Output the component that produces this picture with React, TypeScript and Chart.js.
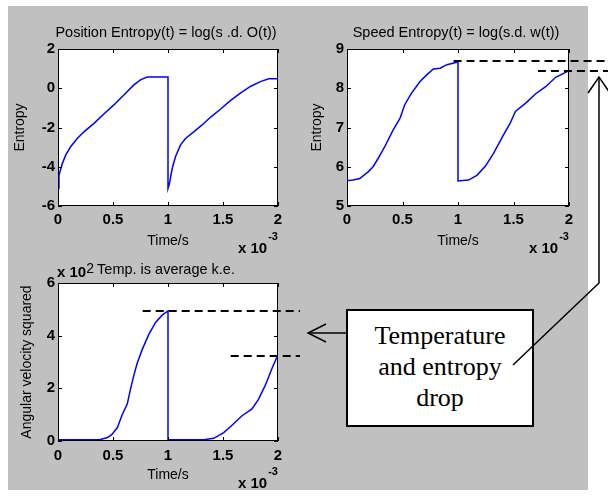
import React, { useEffect, useRef } from 'react';
import { Chart, registerables } from 'chart.js';

Chart.register(...registerables);

const FONT = '"Liberation Sans", Arial, Helvetica, sans-serif';

// Time axis values are in units of 1e-3 s (axis shows "x 10^-3")
const posTime = [0, 0.009, 0.039, 0.07, 0.115, 0.175, 0.236, 0.327, 0.417, 0.508, 0.599, 0.69, 0.75, 0.81, 1.0,
  1.0, 1.013, 1.038, 1.068, 1.113, 1.159, 1.234, 1.31, 1.386, 1.476, 1.567, 1.658, 1.749, 1.84, 1.915, 2.0];
const posEntropy = [-5.1, -4.43, -3.84, -3.41, -2.98, -2.56, -2.22, -1.79, -1.31, -0.85, -0.34, 0.17, 0.43, 0.57, 0.57,
  -5.1, -4.86, -4.09, -3.49, -2.9, -2.56, -2.22, -1.87, -1.48, -1.07, -0.63, -0.25, 0.09, 0.34, 0.48, 0.48];

const spdTime = [0, 0.054, 0.115, 0.19, 0.235, 0.28, 0.34, 0.416, 0.477, 0.52, 0.58, 0.658, 0.718, 0.778, 0.84, 0.9, 1.0,
  1.0, 1.095, 1.17, 1.246, 1.32, 1.41, 1.47, 1.517, 1.61, 1.7, 1.79, 1.88, 2.0];
const spdEntropy = [5.64, 5.66, 5.7, 5.87, 6.0, 6.21, 6.51, 6.94, 7.23, 7.58, 7.87, 8.17, 8.34, 8.49, 8.51, 8.6, 8.67,
  5.64, 5.66, 5.78, 6.01, 6.34, 6.81, 7.11, 7.41, 7.62, 7.86, 8.04, 8.28, 8.45];

// Temperature in units of 1e2
const tmpTime = [0, 0.31, 0.387, 0.45, 0.49, 0.54, 0.58, 0.63, 0.66, 0.69, 0.72, 0.765, 0.826, 0.887, 0.947, 1.0,
  1.0, 1.325, 1.416, 1.507, 1.582, 1.673, 1.764, 1.825, 1.885, 1.946, 2.0];
const tmpKE = [0.05, 0.05, 0.06, 0.13, 0.25, 0.51, 0.96, 1.41, 1.99, 2.5, 2.95, 3.47, 4.05, 4.5, 4.78, 4.94,
  0.05, 0.05, 0.1, 0.32, 0.6, 0.96, 1.22, 1.6, 2.12, 2.76, 3.28];

// Reference (dashed) levels and where they start on the time axis
const spdDropLevels = [8.7, 8.44];
const spdDropStarts = [0.96, 1.72];
const tmpDropLevels = [4.94, 3.23];
const tmpDropStarts = [0.77, 1.57];

const annotationLines = ['Temperature', 'and entropy', 'drop'];

const matlabPlugin = {
  id: 'matlab',
  beforeDraw(chart: any) {
    const { ctx, chartArea: a } = chart;
    ctx.save();
    ctx.fillStyle = '#ffffff';
    ctx.fillRect(a.left, a.top, a.right - a.left, a.bottom - a.top);
    ctx.restore();
  },
  afterDatasetsDraw(chart: any, _args: any, opts: any) {
    const { ctx, chartArea: a, scales } = chart;
    ctx.save();
    ctx.strokeStyle = '#000';
    ctx.lineWidth = 1;
    ctx.strokeRect(Math.round(a.left) + 0.5, Math.round(a.top) + 0.5, Math.round(a.right - a.left) - 1, Math.round(a.bottom - a.top) - 1);
    const tl = 4;
    ctx.beginPath();
    for (const t of scales.x.ticks) {
      const px = Math.round(scales.x.getPixelForValue(t.value)) + 0.5;
      ctx.moveTo(px, a.bottom); ctx.lineTo(px, a.bottom - tl);
      ctx.moveTo(px, a.top); ctx.lineTo(px, a.top + tl);
    }
    for (const t of scales.y.ticks) {
      const py = Math.round(scales.y.getPixelForValue(t.value)) + 0.5;
      ctx.moveTo(a.left, py); ctx.lineTo(a.left + tl, py);
      ctx.moveTo(a.right, py); ctx.lineTo(a.right - tl, py);
    }
    ctx.stroke();
    if (opts.levels) {
      ctx.setLineDash([8, 5]);
      ctx.lineWidth = 2;
      ctx.beginPath();
      opts.levels.forEach((lv: number, i: number) => {
        const y = Math.round(scales.y.getPixelForValue(lv));
        const x0 = scales.x.getPixelForValue(opts.starts[i]);
        ctx.moveTo(x0, y); ctx.lineTo(chart.width, y);
      });
      ctx.stroke();
    }
    ctx.restore();
  },
  afterDraw(chart: any, _args: any, opts: any) {
    const { ctx, chartArea: a } = chart;
    ctx.save();
    ctx.fillStyle = '#000';
    ctx.textBaseline = 'middle';
    ctx.textAlign = 'center';
    ctx.font = `14.5px ${FONT}`;
    ctx.fillText(opts.title, (a.left + a.right) / 2 - 2, a.top - opts.titleOffset);
    ctx.textAlign = 'left';
    // x exponent
    ctx.font = `bold 15px ${FONT}`;
    const xs = a.right - 40;
    ctx.fillText('x 10', xs, a.bottom + 43);
    const w = ctx.measureText('x 10').width;
    ctx.font = `bold 11px ${FONT}`;
    ctx.fillText('-3', xs + w + 1, a.bottom + 31);
    if (opts.yExp) {
      ctx.font = `bold 15px ${FONT}`;
      ctx.fillText('x 10', a.left - 1, a.top - 10);
      const w2 = ctx.measureText('x 10').width;
      ctx.font = `14px ${FONT}`;
      ctx.fillText(opts.yExp, a.left - 1 + w2, a.top - 14);
    }
    ctx.restore();
  },
};

type Panel = {
  left: number; top: number; width: number; height: number;
  area: { l: number; t: number; r: number; b: number };
  time: number[]; values: number[];
  yMin: number; yMax: number; yStep: number;
  title: string; titleOffset: number;
  yTitle: string; yTitlePad: number;
  xTickPad: number; xTitlePad: number;
  levels?: number[]; starts?: number[];
  yExp?: string;
};

const panels: Panel[] = [
  {
    left: 8, top: 6, width: 292, height: 250,
    area: { l: 50, t: 43, r: 270, b: 200 },
    time: posTime, values: posEntropy,
    yMin: -6, yMax: 2, yStep: 2,
    title: 'Position Entropy(t) = log(s .d. O(t))', titleOffset: 16,
    yTitle: 'Entropy', yTitlePad: 3.6,
    xTickPad: 5, xTitlePad: 6.6,
  },
  {
    left: 300, top: 6, width: 308, height: 250,
    area: { l: 47, t: 43, r: 269, b: 200 },
    time: spdTime, values: spdEntropy,
    yMin: 5, yMax: 9, yStep: 1,
    title: 'Speed Entropy(t) = log(s.d. w(t))', titleOffset: 16,
    yTitle: 'Entropy', yTitlePad: 8.6,
    xTickPad: 5, xTitlePad: 6.6,
    levels: spdDropLevels, starts: spdDropStarts,
  },
  {
    left: 8, top: 256, width: 292, height: 234,
    area: { l: 50, t: 27, r: 270, b: 185 },
    time: tmpTime, values: tmpKE,
    yMin: 0, yMax: 6, yStep: 2,
    title: 'Temp. is average k.e.', titleOffset: 13,
    yTitle: 'Angular velocity squared', yTitlePad: 10.6,
    xTickPad: 6, xTitlePad: 6.6,
    levels: tmpDropLevels, starts: tmpDropStarts,
    yExp: '2',
  },
];

function PanelChart({ p }: { p: Panel }) {
  const ref = useRef<HTMLCanvasElement>(null);
  useEffect(() => {
    const canvas = ref.current!;
    const tickFont = { family: FONT, size: 15, weight: 'bold' as const };
    const titleFont = { family: FONT, size: 14 };
    const chart = new Chart(canvas, {
      type: 'line',
      data: {
        datasets: [{
          data: p.time.map((t, i) => ({ x: t, y: p.values[i] })),
          borderColor: '#0000ff',
          borderWidth: 1.5,
          pointRadius: 0,
          tension: 0,
          fill: false,
        }],
      },
      options: {
        animation: false,
        responsive: false,
        events: [],
        layout: { padding: { left: 0, top: p.area.t, right: p.width - p.area.r, bottom: 0 } },
        plugins: {
          legend: { display: false },
          tooltip: { enabled: false },
          title: { display: false },
          matlab: { title: p.title, titleOffset: p.titleOffset, levels: p.levels, starts: p.starts, yExp: p.yExp },
        } as any,
        scales: {
          x: {
            type: 'linear', min: 0, max: 2,
            ticks: { stepSize: 0.5, font: tickFont, color: '#000', padding: p.xTickPad, maxRotation: 0, callback: (v: any) => String(v) },
            grid: { display: false, drawTicks: false },
            border: { display: false },
            title: { display: true, text: 'Time/s', font: titleFont, color: '#000', padding: { top: 0, bottom: p.xTitlePad } },
            afterFit: (s: any) => { s.height = p.height - p.area.b; },
          },
          y: {
            type: 'linear', min: p.yMin, max: p.yMax,
            ticks: { stepSize: p.yStep, font: tickFont, color: '#000', padding: 3, callback: (v: any) => String(v) },
            grid: { display: false, drawTicks: false },
            border: { display: false },
            title: { display: true, text: p.yTitle, font: titleFont, color: '#000', padding: { top: p.yTitlePad, bottom: 0 } },
            afterFit: (s: any) => { s.width = p.area.l; },
          },
        },
      } as any,
      plugins: [matlabPlugin],
    });
    return () => chart.destroy();
  }, [p]);
  return (
    <canvas
      ref={ref}
      width={p.width}
      height={p.height}
      style={{ position: 'absolute', left: p.left, top: p.top, width: p.width, height: p.height }}
    />
  );
}

export default function App() {
  return (
    <div style={{ position: 'absolute', left: 0, top: 0, width: 608, height: 497, background: '#fff', overflow: 'hidden' }}>
      <div style={{ position: 'absolute', left: 8, top: 6, width: 580, height: 484, background: '#c0c0c0' }} />
      {panels.map((p, i) => <PanelChart key={i} p={p} />)}
      <svg width={608} height={497} style={{ position: 'absolute', left: 0, top: 0, pointerEvents: 'none' }}>
        <rect x={347} y={310} width={186} height={116} fill="#fff" stroke="#000" strokeWidth={2} />
        <g stroke="#000" strokeWidth={1.5} fill="none">
          <line x1={347} y1={333} x2={308} y2={333} />
          <polyline points="326,324 308,333 326,342" />
          <polyline points="513,365 599,283 599,77" />
          <polyline points="588,93 599,77 610,93" />
        </g>
      </svg>
      <div style={{
        position: 'absolute', left: 347, top: 320, width: 186, textAlign: 'center',
        fontFamily: '"Liberation Serif", "Times New Roman", serif', fontSize: 26, lineHeight: '31px', color: '#000',
      }}>
        {annotationLines.map((l, i) => <div key={i}>{l}</div>)}
      </div>
    </div>
  );
}
